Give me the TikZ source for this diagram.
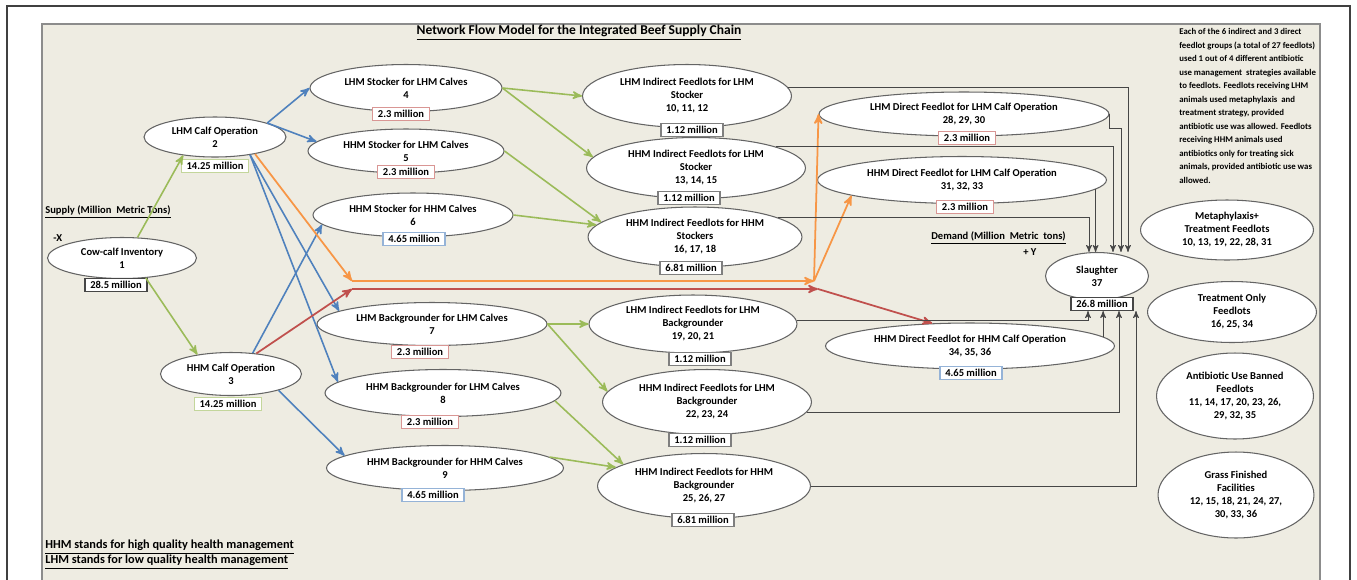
\documentclass[tikz,border=0pt]{standalone}
\usepackage{fontspec}
\setmainfont{Carlito}
\usepackage{tikz}
\usetikzlibrary{arrows,positioning,shapes.geometric,calc}
\definecolor{panelbg}{RGB}{238,236,226}
\definecolor{flowgreen}{RGB}{155,187,89}
\definecolor{flowblue}{RGB}{79,129,189}
\definecolor{floworange}{RGB}{247,150,70}
\definecolor{flowred}{RGB}{192,80,77}
\definecolor{linegray}{RGB}{70,70,70}
\definecolor{ovalline}{RGB}{100,100,100}
\definecolor{boxpink}{RGB}{217,150,148}
\definecolor{boxblue}{RGB}{149,179,215}
\definecolor{boxgreen}{RGB}{195,214,155}
\definecolor{boxgray}{RGB}{127,127,127}
\tikzset{
    %Define standard arrow tip
    >=stealth',
    %Define style for ovals
    oval/.style 2 args={
           ellipse,
           draw=ovalline, line width=0.6pt,
           fill=white,
           inner sep=0pt,
           minimum width=#1*0.569pt,
           minimum height=#2*0.569pt,
           align=center,
           font=\fontsize{6}{7.4}\selectfont\bfseries},
    %Define style for amount boxes
    amount/.style={
           rectangle,
           draw=#1, line width=0.6pt,
           fill=white,
           inner xsep=3pt, inner ysep=0pt,
           minimum height=7.4pt,
           font=\fontsize{6}{7.4}\selectfont\bfseries},
    %Define style for plain text
    txt/.style={
           inner sep=0pt,
           font=\fontsize{6}{7.4}\selectfont\bfseries},
    % Define arrow styles
    greenflow/.style={->, color=flowgreen, line width=0.9pt},
    blueflow/.style={->, color=flowblue, line width=0.9pt},
    orangeflow/.style={->, color=floworange, line width=1pt},
    redflow/.style={->, color=flowred, line width=1pt},
    toslaughter/.style={->, draw=linegray, line width=0.5pt}
}
\begin{document}
\begin{tikzpicture}[x=0.02cm,y=-0.02cm]
\useasboundingbox (0,0) rectangle (1357,579);
\fill[white] (0,0) rectangle (1357,579);
\draw[line width=0.8pt, draw=black!75] (7,6) rectangle (1350,590);
\draw[fill=panelbg, draw=black!45, line width=0.8pt] (42,24) rectangle (1320,590);
 %nodes
\node[oval={149}{41}] (n1) at (122,258) {Cow-calf Inventory\\1};
\node[oval={142}{40}] (n2) at (215,137) {LHM Calf Operation\\2};
\node[oval={141}{43}] (n3) at (231,374) {HHM Calf Operation\\3};
\node[oval={192}{47}] (n4) at (406,88) {LHM Stocker for LHM Calves\\4};
\node[oval={196}{44}] (n5) at (406,151) {HHM Stocker for LHM Calves\\5};
\node[oval={200}{44}] (n6) at (413,215) {HHM Stocker for HHM Calves\\6};
\node[oval={230}{43}] (n7) at (432,324) {LHM Backgrounder for LHM Calves\\7};
\node[oval={236}{47}] (n8) at (443,393) {HHM Backgrounder for LHM Calves\\8};
\node[oval={237}{45}] (n9) at (445,468) {HHM Backgrounder for HHM Calves\\9};
\node[oval={209}{63}] (n10) at (687,96) {LHM Indirect Feedlots for LHM\\Stocker\\10, 11, 12};
\node[oval={219}{61}] (n13) at (696,168) {HHM Indirect Feedlots for LHM\\Stocker\\13, 14, 15};
\node[oval={214}{60}] (n16) at (695,237) {HHM Indirect Feedlots for HHM\\Stockers\\16, 17, 18};
\node[oval={208}{58}] (n19) at (693,324) {LHM Indirect Feedlots for LHM\\Backgrounder\\19, 20, 21};
\node[oval={209}{65}] (n22) at (707,402) {HHM Indirect Feedlots for LHM\\Backgrounder\\22, 23, 24};
\node[oval={213}{65}] (n25) at (704,486) {HHM Indirect Feedlots for HHM\\Backgrounder\\25, 26, 27};
\node[oval={290}{44}] (n28) at (964,114) {LHM Direct Feedlot for LHM Calf Operation\\28, 29, 30};
\node[oval={289}{47}] (n31) at (962,180) {HHM Direct Feedlot for LHM Calf Operation\\31, 32, 33};
\node[oval={289}{46}] (n34) at (970,346) {HHM Direct Feedlot for HHM Calf Operation\\34, 35, 36};
\node[oval={103}{47}] (n37) at (1097,276) {Slaughter\\37};
 %amounts
\node[amount=linegray] (m1) at (116,285) {28.5 million};
\node[amount=boxgreen] (m2) at (215,166) {14.25 million};
\node[amount=boxgreen] (m3) at (228,404) {14.25 million};
\node[amount=boxpink] (m4) at (401,114) {2.3 million};
\node[amount=boxpink] (m5) at (406,172) {2.3 million};
\node[amount=boxblue] (m6) at (414,239) {4.65 million};
\node[amount=boxpink] (m7) at (420,352) {2.3 million};
\node[amount=boxpink] (m8) at (430,422) {2.3 million};
\node[amount=boxblue] (m9) at (433,495) {4.65 million};
\node[amount=boxgray] (m10) at (692,130) {1.12 million};
\node[amount=boxgray] (m13) at (689,198) {1.12 million};
\node[amount=boxgray] (m16) at (691,268) {6.81 million};
\node[amount=boxgray] (m19) at (700,359) {1.12 million};
\node[amount=boxgray] (m22) at (700,440) {1.12 million};
\node[amount=boxgray] (m25) at (703,520) {6.81 million};
\node[amount=boxpink] (m28) at (967,138) {2.3 million};
\node[amount=boxpink] (m31) at (965,207) {2.3 million};
\node[amount=boxblue] (m34) at (971,373) {4.65 million};
\node[amount=linegray] (m37) at (1102,304) {26.8 million};
 %strategy groups
\node[oval={173}{60}] (l1) at (1227,230) {Metaphylaxis+\\Treatment Feedlots\\10, 13, 19, 22, 28, 31};
\node[oval={169}{61}] (l2) at (1232,312) {Treatment Only\\Feedlots\\16, 25, 34};
\node[oval={157}{86}] (l3) at (1235,396) {Antibiotic Use Banned\\Feedlots\\11, 14, 17, 20, 23, 26,\\29, 32, 35};
\node[oval={156}{86}] (l4) at (1236,495) {Grass Finished\\Facilities\\12, 15, 18, 21, 24, 27,\\30, 33, 36};
 %texts
\node[txt, font=\fontsize{7.7}{9}\selectfont\bfseries] (title) at (579,33) {\underline{Network Flow Model for the Integrated Beef Supply Chain}};
\node[txt, anchor=west] (supply) at (45,212) {\underline{Supply (Million\ \ Metric Tons)}};
\node[txt, anchor=west] (minusx) at (53,238) {-X};
\node[txt, anchor=west] (demand) at (931,238) {\underline{Demand (Million\ \ Metric\ \ tons)}};
\node[txt, anchor=west] (plusy) at (1023,252) {+ Y};
\node[txt, anchor=west, font=\fontsize{7}{8}\selectfont\bfseries] (hhmnote) at (45,547) {\underline{HHM stands for high quality health management}};
\node[txt, anchor=west, font=\fontsize{7}{8}\selectfont\bfseries] (lhmnote) at (45,562) {\underline{LHM stands for low quality health management}};
\node[txt, anchor=north west, align=left, font=\fontsize{5}{7.7}\selectfont\bfseries] (info) at (1179,28) {Each of the 6 indirect and 3 direct\\feedlot groups (a total of 27 feedlots)\\used 1 out of 4 different antibiotic\\use management\ \ strategies available\\to feedlots. Feedlots receiving LHM\\animals used metaphylaxis\ \ and\\treatment strategy, provided\\antibiotic use was allowed. Feedlots\\receiving HHM animals used\\antibiotics only for treating sick\\animals, provided antibiotic use was\\allowed.};
 %junctions
\coordinate (oa) at (352,281);
\coordinate (ob) at (814,281);
\coordinate (ra) at (352,289);
\coordinate (rb) at (818,289);
 %flows
\path[greenflow] (n1.53) edge (n2.210)
   (n1.-40) edge (n3.150)
   (n4.east) edge (n10.west) edge (n13.174)
   (n5.east) edge (n16.171)
   (n6.east) edge (n16.173)
   (n7.east) edge (n19.west) edge (n22.174)
   (n8.-4) edge (n25.165)
   (n9.6) edge (n25.168);
\path[blueflow] (n2.15) edge (n4.west) edge (n5.174)
   (n2.-27) edge (n7.172) edge (n8.174)
   (n3.44) edge (n6.186)
   (n3.-19) edge (n9.173);
\path[orangeflow] (n2.-23) edge (oa)
   (oa) edge (ob)
   (ob) edge (n28.180) edge (n31.188);
\path[redflow] (n3.39) edge (ra)
   (ra) edge (rb)
   (rb) edge (n34.149);
 %to slaughter
\draw[toslaughter] (n10.5) -| ($(n37.north)+(31,0)$);
\draw[toslaughter] (n28.east) -- ++(0,14) -| ($(n37.north)+(24,0)$);
\draw[toslaughter] (n13.15) -| ($(n37.north)+(16,0)$);
\draw[toslaughter] (n31.-4) -- (n31.-4 |- n37.north);
\draw[toslaughter] (n16.13) -| ($(n37.north)+(-8,0)$);
\draw[toslaughter] (n19.2) -| ($(m37.south)+(-14,0)$);
\draw[toslaughter] (n34.4) -- (n34.4 |- m37.south);
\draw[toslaughter] (n22.-6) -| ($(m37.south)+(17,0)$);
\draw[toslaughter] (n25.east) -| ($(m37.south)+(34,0)$);
\end{tikzpicture}
\end{document}
